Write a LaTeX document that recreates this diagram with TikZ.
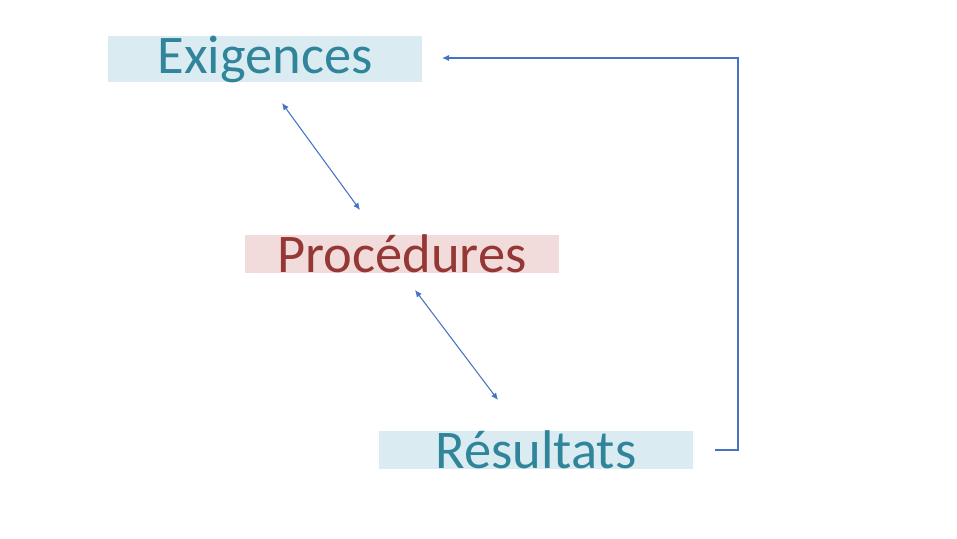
\documentclass[tikz,border=0pt]{standalone}
\usepackage{fontspec}
\setmainfont{Carlito}
\usetikzlibrary{arrows.meta}

\definecolor{tealtext}{RGB}{49,133,155}
\definecolor{redtext}{RGB}{149,55,53}
\definecolor{tealbox}{RGB}{218,236,241}
\definecolor{redbox}{RGB}{242,219,219}
\definecolor{linkblue}{RGB}{68,114,196}

\tikzset{
  label box/.style={inner sep=0pt, minimum width=6.3cm, minimum height=0.76cm, font=\fontsize{31}{31}\selectfont},
  teal label/.style={label box, fill=tealbox, text=tealtext},
  red label/.style={label box, fill=redbox, text=redtext},
  link/.style={draw=linkblue, line width=0.6pt, {Latex[length=4pt,width=3.5pt]}-{Latex[length=4pt,width=3.5pt]}},
  feedback/.style={draw=linkblue, line width=0.6pt, -{Latex[length=4pt,width=3.5pt]}}
}

\begin{document}
\begin{tikzpicture}[x=0.02cm,y=-0.02cm]

\useasboundingbox[fill=white] (0,0) rectangle (957,538);

% Labels

\node[teal label] (exig) at (265,59) {Exigences};
\node[red label] (proc) at (402,254) {Procédures};
\node[teal label] (resu) at (536,450) {Résultats};

% Links

\coordinate (e_out) at (282,103);
\coordinate (p_in) at (360,210);
\coordinate (p_out) at (415,290);
\coordinate (r_in) at (498,400);
\draw[link] (e_out) -- (p_in);
\draw[link] (p_out) -- (r_in);

% Feedback loop

\coordinate (r_end) at (715,450);
\coordinate (e_end) at (442,58);
\draw[feedback] (r_end) -- (738,450) -- (738,58) -- (e_end);

\end{tikzpicture}
\end{document}
